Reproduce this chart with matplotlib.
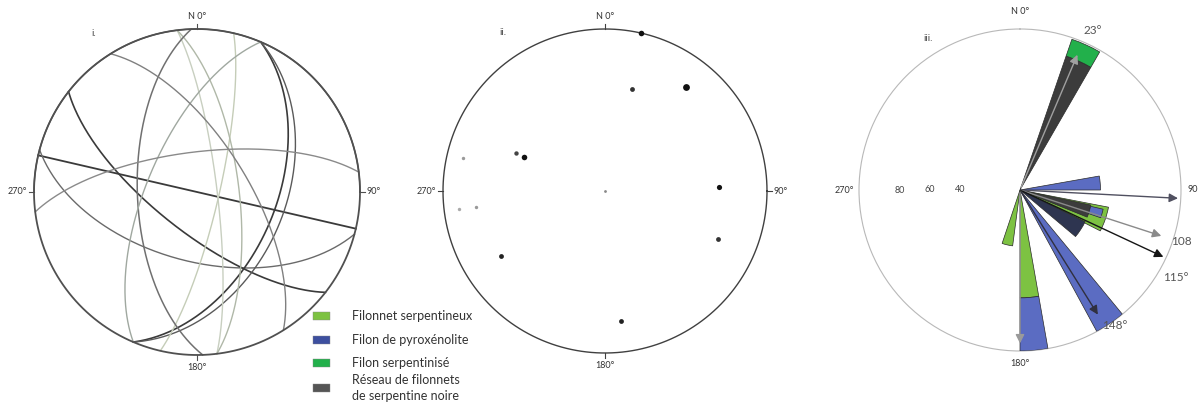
import numpy as np
import matplotlib
matplotlib.use('Agg')
import matplotlib.pyplot as plt
from matplotlib.patches import Rectangle

plt.rcParams['font.family'] = ['Lato', 'DejaVu Sans']

# planes (dip direction / dip, degrees)
dip_dir = [193, 195, 218, 113, 113, 103, 0, 83, 83, 268, 293, 58, 353]
dip = [90, 55, 70, 50, 45, 79, 0, 80, 69, 60, 65, 65, 70]
line_col = ['#3a3a3a', '#6a6a6a', '#3a3a3a', '#3a3a3a', '#5a5a5a', '#c5cdb8', '#555555',
            '#c8cfc0', '#b0b8a8', '#707070', '#a0a8a0', '#808080', '#8a8a8a']
line_w = [1.3, 1.0, 1.2, 1.2, 1.0, 1.0, 1.0, 1.0, 1.0, 1.1, 1.0, 1.0, 1.0]
pole_col = ['#111111', '#333333', '#111111', '#444444', '#111111', '#9a9a9a', '#888888',
            '#aaaaaa', '#999999', '#111111', '#333333', '#222222', '#222222']
pole_size = [16, 12, 24, 10, 16, 6, 4, 6, 6, 14, 12, 12, 12]

# rose diagram (iii)
rose_dir = [24.5, 24.5, 85, 109, 107, 106, 123, 146, 175, 175, 193]
rose_width = [11, 11, 10, 16, 10, 6, 14, 11, 10, 10, 11]
rose_bottom = [0, 0.88, 0, 0, 0, 0.45, 0, 0, 0, 0.67, 0]
rose_height = [0.88, 0.11, 0.5, 0.56, 0.45, 0.08, 0.45, 1.0, 0.67, 0.33, 0.35]
rose_cat = ['res', 'fil', 'pyr', 'ser', 'res', 'pyr', 'nav', 'pyr', 'ser', 'pyr', 'ser']
mean_dir = [23, 93, 108, 115, 148, 180]
mean_len = [0.93, 1.0, 0.94, 1.0, 0.93, 0.97]
mean_col = ['#a0a0a0', '#505060', '#8a8a8a', '#151515', '#303040', '#9a9a9a']
dir_labels = ['23°', '108', '115°', '148°']
dir_label_pos = [(24.5, 1.09), (109, 0.99), (121.5, 1.04), (145, 1.03)]
dir_label_ha = ['center', 'left', 'left', 'center']

colors = {'ser': '#7dc242', 'pyr': '#5b6cc2', 'fil': '#22b04b', 'res': '#3c3c3c',
          'nav': '#2e3550'}
legend_labels = ['Filonnet serpentineux', 'Filon de pyroxénolite', 'Filon serpentinisé',
                 'Réseau de filonnets\nde serpentine noire']
legend_colors = ['#7dc242', '#3d4f9f', '#22b04b', '#555555']

W, H = 1198, 407
legend_y = [316, 340, 363, 388]


def box(cx, cy, r):
    return [(cx - r) / W, (H - cy - r) / H, 2 * r / W, 2 * r / H]


def great_circle(dd, d):
    a = np.linspace(0, np.pi, 181)
    s, ddr, dr = np.radians(dd - 90), np.radians(dd), np.radians(d)
    S = np.array([np.sin(s), np.cos(s), 0.0])
    D = np.array([np.sin(ddr) * np.cos(dr), np.cos(ddr) * np.cos(dr), -np.sin(dr)])
    v = np.outer(np.cos(a), S) + np.outer(np.sin(a), D)
    z = np.minimum(v[:, 2], 0)
    f = 1 / np.sqrt(1 - z)
    return v[:, 0] * f, v[:, 1] * f


def pole(dd, d):
    t, p = np.radians(dd + 180), np.radians(90 - d)
    x, y, z = np.sin(t) * np.cos(p), np.cos(t) * np.cos(p), -np.sin(p)
    f = 1 / np.sqrt(1 - z)
    return x * f, y * f


def net(ax, title, lw, col):
    th = np.linspace(0, 2 * np.pi, 400)
    ax.plot(np.cos(th), np.sin(th), color=col, lw=lw, zorder=5)
    for ang in [0, 90, 180, 270]:
        a = np.radians(ang)
        ax.plot([np.sin(a), 1.03 * np.sin(a)], [np.cos(a), 1.03 * np.cos(a)], color=col, lw=0.8)
    ax.text(0, 1.05, 'N 0°', ha='center', va='bottom', fontsize=6.5, color='#333')
    ax.text(1.04, 0, '90°', ha='left', va='center', fontsize=6.5, color='#333')
    ax.text(0, -1.05, '180°', ha='center', va='top', fontsize=6.5, color='#333')
    ax.text(-1.04, 0, '270°', ha='right', va='center', fontsize=6.5, color='#333')
    ax.text(-0.65, 0.96, title, fontsize=7, color='#444')
    ax.set_xlim(-1.1, 1.1)
    ax.set_ylim(-1.1, 1.1)
    ax.axis('off')


fig = plt.figure(figsize=(W / 100, H / 100), dpi=100)

# i. great circles
ax1 = fig.add_axes(box(197, 192, 163 * 1.1))
for dd, d, c, w in zip(dip_dir, dip, line_col, line_w):
    x, y = great_circle(dd, d)
    ax1.plot(x, y, color=c, lw=w)
net(ax1, 'i.', 1.3, '#505050')

# ii. poles
ax2 = fig.add_axes(box(605, 191, 162 * 1.1))
for dd, d, c, s in zip(dip_dir, dip, pole_col, pole_size):
    x, y = pole(dd, d)
    ax2.scatter(x, y, s=s, color=c, zorder=6, linewidths=0)
net(ax2, 'ii.', 1.0, '#404040')

# iii. rose diagram
ax3 = fig.add_axes(box(1020, 190, 161), projection='polar')
ax3.set_theta_zero_location('N')
ax3.set_theta_direction(-1)
for t, w, b, h, c in zip(rose_dir, rose_width, rose_bottom, rose_height, rose_cat):
    ax3.bar(np.radians(t), h, width=np.radians(w), bottom=b, color=colors[c],
            edgecolor='#2a2a2a', linewidth=0.5, zorder=3)
for t, r, c in zip(mean_dir, mean_len, mean_col):
    ax3.annotate('', xy=(np.radians(t), r), xytext=(0, 0),
                 arrowprops=dict(arrowstyle='-|>', color=c, lw=1.0, mutation_scale=13),
                 zorder=4)
for txt, (t, r), ha in zip(dir_labels, dir_label_pos, dir_label_ha):
    ax3.text(np.radians(t), r, txt, ha=ha, va='center', fontsize=8.5, color='#555')
for v, r in zip(['80', '60', '40'], [0.745, 0.56, 0.37]):
    ax3.text(np.radians(270), r, v, ha='center', va='center', fontsize=6.5, color='#444')
ax3.text(0, 1.08, 'N 0°', ha='center', va='bottom', fontsize=6.5, color='#333')
ax3.text(np.radians(90), 1.04, '90', ha='left', va='center', fontsize=6.5, color='#333')
ax3.text(np.radians(180), 1.05, '180°', ha='center', va='top', fontsize=6.5, color='#333')
ax3.text(np.radians(270), 1.03, '270°', ha='right', va='center', fontsize=6.5, color='#333')
ax3.text(np.radians(-33), 1.1, 'iii.', fontsize=7, color='#444')
ax3.set_ylim(0, 1)
ax3.grid(False)
ax3.set_xticks([])
ax3.set_yticks([])
ax3.spines['polar'].set_color('#b8b8b8')
ax3.spines['polar'].set_linewidth(0.8)
ax3.patch.set_alpha(0)

# legend drawn by hand so the rows sit where they do in the original
for lab, c, y in zip(legend_labels, legend_colors, legend_y):
    fig.add_artist(Rectangle((313 / W, 1 - (y + 4) / H), 17 / W, 8 / H, transform=fig.transFigure,
                             facecolor=c, edgecolor='#888', linewidth=0.3))
    fig.text(352 / W, 1 - y / H, lab, ha='left', va='center', fontsize=9, color='#333',
             linespacing=1.45)

fig.savefig('out.png', dpi=100)
